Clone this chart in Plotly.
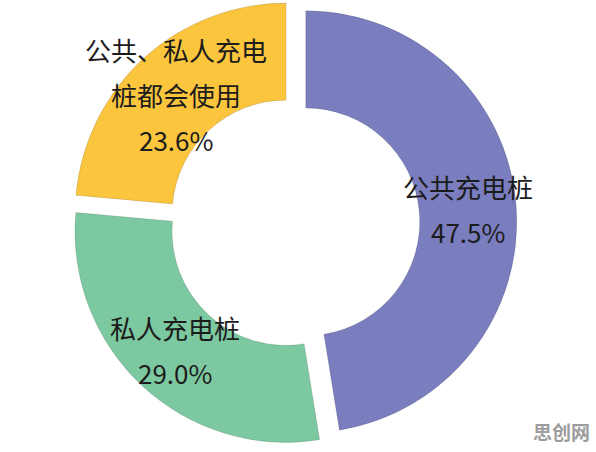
import math

import plotly.graph_objects as go

# data
labels = ["公共充电桩", "私人充电桩", "公共、私人充电桩都会使用"]
values = [47.5, 29.0, 23.6]
label_lines = [
    ["公共充电桩", "47.5%"],
    ["私人充电桩", "29.0%"],
    ["公共、私人充电", "桩都会使用", "23.6%"],
]
colors = ["#7a7dbe", "#7cc8a0", "#fbc53e"]

W, H = 596, 452
HOLE = 0.54
PULL = 0.056
DOMAIN_X = [0.0, 0.9866]
DOMAIN_Y = [0.0142, 1.0]
LINE_GAP = 45

fig = go.Figure(
    go.Pie(
        labels=labels,
        values=values,
        hole=HOLE,
        pull=[PULL] * len(values),
        sort=False,
        direction="clockwise",
        rotation=0,
        marker=dict(colors=colors, line=dict(width=1, color="rgba(0,0,0,0.12)")),
        textinfo="none",
        hoverinfo="label+percent",
        domain=dict(x=DOMAIN_X, y=DOMAIN_Y),
        showlegend=False,
    )
)

# place labels in the middle of each ring segment, the same way plotly lays out the pie
box_w = W * (DOMAIN_X[1] - DOMAIN_X[0])
box_h = H * (DOMAIN_Y[1] - DOMAIN_Y[0])
r = min(box_w, box_h) / (2 + 2 * PULL)
cx = W * (DOMAIN_X[0] + DOMAIN_X[1]) / 2
cy = H * (1 - DOMAIN_Y[0]) - box_h / 2
dist = r * (1 + HOLE) / 2 + PULL * r

total = sum(values)
cum = 0
for v, lines in zip(values, label_lines):
    theta = 2 * math.pi * (cum + v / 2) / total
    cum += v
    px = cx + dist * math.sin(theta)
    py = cy - dist * math.cos(theta)
    n = len(lines)
    for k, line in enumerate(lines):
        fig.add_annotation(
            x=px / W,
            y=1 - py / H,
            xref="paper",
            yref="paper",
            xanchor="center",
            yanchor="middle",
            text=line,
            showarrow=False,
            yshift=((n - 1) / 2 - k) * LINE_GAP,
            font=dict(size=26, color="#1c1c1c", family="Noto Sans CJK SC"),
        )

# watermark
fig.add_annotation(
    x=0.993,
    y=0.012,
    xref="paper",
    yref="paper",
    xanchor="right",
    yanchor="bottom",
    text="<b>思创网</b>",
    showarrow=False,
    font=dict(size=19, color="#9c9c9c", family="Noto Sans CJK SC"),
)

fig.update_layout(
    width=W,
    height=H,
    margin=dict(l=0, r=0, t=0, b=0),
    paper_bgcolor="white",
    plot_bgcolor="white",
)

# drop the default 8px body margin so the figure sits at the window corner
fig.write_html(
    "out.html",
    config={"displayModeBar": False},
    post_script="document.body.style.margin = '0';",
)
